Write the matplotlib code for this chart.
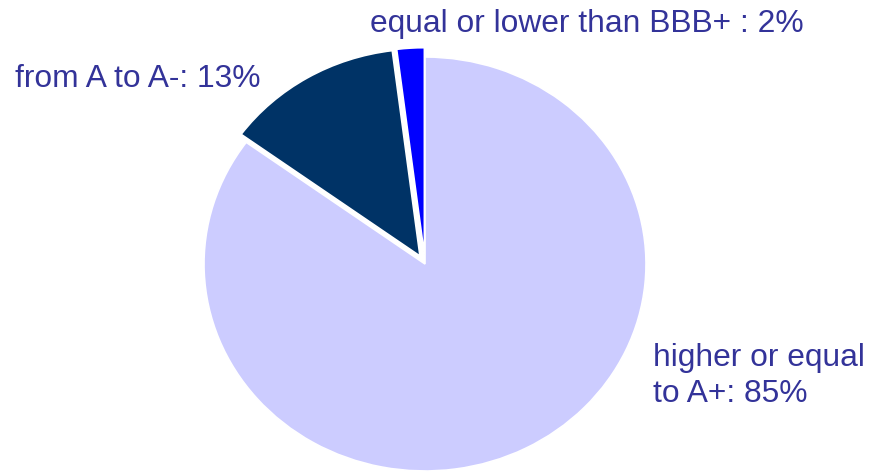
import matplotlib
matplotlib.use("Agg")
import matplotlib.pyplot as plt

categories = ["higher or equal\nto A+", "from A to A-", "equal or lower than BBB+ "]
values = [85, 13, 2]
colors = ["#CCCCFF", "#003366", "#0000FF"]
explode = [0.0, 0.045, 0.045]
text_color = "#333399"

plt.rcParams['font.family'] = ['Liberation Sans', 'DejaVu Sans']

W, H = 870, 472
fig = plt.figure(figsize=(W / 100, H / 100), dpi=100)
cx, cy, rx, ry = 425, 264, 221, 207
ax = fig.add_axes([(cx - rx) / W, (H - (cy + ry)) / H, 2 * rx / W, 2 * ry / H])
wedges, _ = ax.pie(values, colors=colors, startangle=90, counterclock=False,
                   explode=explode, radius=1.0,
                   wedgeprops=dict(edgecolor="white", linewidth=1.2))
for w in wedges:
    w.set_clip_on(False)
ax.set_aspect('auto')
ax.set_xlim(-1, 1)
ax.set_ylim(-1, 1)
ax.axis('off')

labels = [f"{c}: {v}%" for c, v in zip(categories, values)]
fs = 22.9
positions = [(653, 402), (15, 87), (370, 32)]  # left, baseline (pixels from top)
for lab, (x, y) in zip(labels, positions):
    fig.text(x / W, 1 - y / H, lab, fontsize=fs, color=text_color,
             ha='left', va='baseline', linespacing=1.25)

fig.savefig("out.png", dpi=100)
